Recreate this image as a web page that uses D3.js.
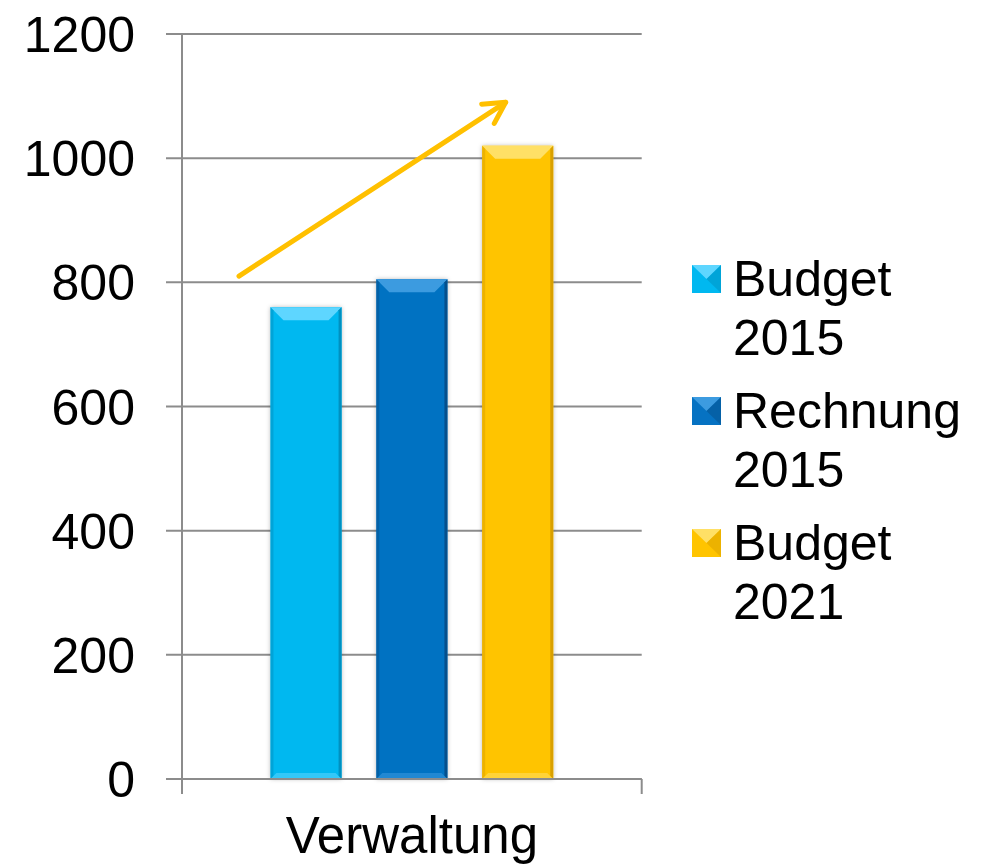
<!DOCTYPE html>
<html>
<head>
<meta charset="utf-8">
<script src="https://cdn.jsdelivr.net/npm/d3@7"></script>
<style>
  html, body { margin: 0; padding: 0; background: #fff; }
  svg { display: block; font-family: "Liberation Sans", Arial, sans-serif; }
</style>
</head>
<body>
<svg id="chart" width="987" height="866"></svg>
<script>
// ---- data ----
const categories = ["Verwaltung"];
const seriesNames = ["Budget 2015", "Rechnung 2015", "Budget 2021"];
const seriesValues = [760, 805, 1020];
const yTicks = [0, 200, 400, 600, 800, 1000, 1200];
const trendArrowValues = [810, 1090];   // start / end value of the trend arrow
const trendArrowPos = [0.124, 0.704];   // relative position across the category band

// ---- styles ----
const colors = ["#00B8F0", "#0672C2", "#FFC400"];
const lightColors = ["#5ED6FF", "#3C9BE0", "#FFE066"];
const darkColors = ["#0090C0", "#044F8C", "#D9A000"];

const svg = d3.select("#chart");
const margin = { left: 182, right: 346, top: 34, bottom: 87 };
const W = 987, H = 866;
const plotL = margin.left, plotR = W - margin.right + 0.7, plotT = margin.top, plotB = H - margin.bottom;

const y = d3.scaleLinear().domain([0, 1200]).range([plotB, plotT]);
const x0 = d3.scaleBand().domain(categories).range([plotL, plotR]).paddingInner(0).paddingOuter(0.3127);
const x1 = d3.scaleBand().domain(seriesNames).range([0, x0.bandwidth()]).paddingInner(0.328).paddingOuter(0);

const defs = svg.append("defs");
const f = defs.append("filter").attr("id", "shadow").attr("x", "-20%").attr("y", "-20%").attr("width", "140%").attr("height", "140%");
f.append("feDropShadow").attr("dx", 0).attr("dy", 0).attr("stdDeviation", 2.2).attr("flood-color", "#000").attr("flood-opacity", 0.28);

// gridlines
const gridColor = "#8c8c8c";
svg.append("g").selectAll("line").data(yTicks).join("line")
  .attr("x1", plotL - 16).attr("x2", plotR)
  .attr("y1", d => y(d)).attr("y2", d => y(d))
  .attr("stroke", gridColor).attr("stroke-width", 2);

// y axis line
svg.append("line").attr("x1", plotL).attr("x2", plotL).attr("y1", plotT).attr("y2", plotB + 15)
  .attr("stroke", gridColor).attr("stroke-width", 2);
// x axis boundary ticks
svg.append("line").attr("x1", plotR).attr("x2", plotR).attr("y1", plotB).attr("y2", plotB + 15)
  .attr("stroke", gridColor).attr("stroke-width", 2);

// y labels
svg.append("g").selectAll("text").data(yTicks).join("text")
  .attr("x", 135).attr("y", d => y(d) + 18)
  .attr("text-anchor", "end").attr("font-size", 50).attr("fill", "#000")
  .text(d => d);

// x label
svg.append("text").attr("x", x0(categories[0]) + x0.bandwidth() / 2).attr("y", 853)
  .attr("text-anchor", "middle").attr("font-size", 51).attr("fill", "#000").text(categories[0]);

// bars with bevel
function bevelBar(g, bx, by, bw, bh, i) {
  g.append("rect").attr("x", bx).attr("y", by).attr("width", bw).attr("height", bh)
    .attr("fill", colors[i]).attr("filter", "url(#shadow)");
  const b = Math.min(13, bh / 2), s = 3;
  // top bevel
  g.append("polygon").attr("points", [[bx, by], [bx + bw, by], [bx + bw - b, by + b], [bx + b, by + b]].join(" "))
    .attr("fill", lightColors[i]);
  // right bevel
  g.append("polygon").attr("points", [[bx + bw, by], [bx + bw, by + bh], [bx + bw - s, by + bh - s], [bx + bw - s, by + s]].join(" "))
    .attr("fill", darkColors[i]);
  // left bevel
  g.append("polygon").attr("points", [[bx, by], [bx, by + bh], [bx + s, by + bh - s], [bx + s, by + s]].join(" "))
    .attr("fill", darkColors[i]).attr("opacity", 0.5);
  // bottom bevel
  g.append("polygon").attr("points", [[bx, by + bh], [bx + bw, by + bh], [bx + bw - 6, by + bh - 6], [bx + 6, by + bh - 6]].join(" "))
    .attr("fill", lightColors[i]).attr("opacity", 0.55);
}
const barsG = svg.append("g");
seriesNames.forEach((name, i) => {
  const bx = x0(categories[0]) + x1(name);
  const by = y(seriesValues[i]);
  bevelBar(barsG.append("g"), bx, by, x1.bandwidth(), y(0) - by, i);
});

// x axis line (over bars)
svg.append("line").attr("x1", plotL - 16).attr("x2", plotR).attr("y1", plotB).attr("y2", plotB)
  .attr("stroke", gridColor).attr("stroke-width", 2.2);

// trend arrow
const ax = trendArrowPos.map(p => plotL + p * (plotR - plotL));
const ay = trendArrowValues.map(v => y(v));
const arrowColor = "#FFC000";
svg.append("line").attr("x1", ax[0]).attr("y1", ay[0]).attr("x2", ax[1]).attr("y2", ay[1])
  .attr("stroke", arrowColor).attr("stroke-width", 5).attr("stroke-linecap", "round");
const ang = Math.atan2(ay[1] - ay[0], ax[1] - ax[0]);
const hl = 24, ha = 0.5;
const head = [
  [ax[1] - hl * Math.cos(ang - ha), ay[1] - hl * Math.sin(ang - ha)],
  [ax[1], ay[1]],
  [ax[1] - hl * Math.cos(ang + ha), ay[1] - hl * Math.sin(ang + ha)]
];
svg.append("path").attr("d", d3.line()(head)).attr("fill", "none")
  .attr("stroke", arrowColor).attr("stroke-width", 5).attr("stroke-linecap", "round").attr("stroke-linejoin", "round");

// legend
const legend = svg.append("g");
seriesNames.forEach((name, i) => {
  const base = 296 + i * 132;
  const g = legend.append("g");
  const mx = 692, my = base - 31, ms = 28;
  g.append("rect").attr("x", mx).attr("y", my).attr("width", ms + 1).attr("height", ms).attr("fill", colors[i]);
  g.append("polygon").attr("points", [[mx, my], [mx + ms + 1, my], [mx + (ms + 1) / 2, my + ms / 2]].join(" "))
    .attr("fill", lightColors[i]);
  g.append("polygon").attr("points", [[mx + ms + 1, my], [mx + ms + 1, my + ms], [mx + (ms + 1) / 2, my + ms / 2]].join(" "))
    .attr("fill", darkColors[i]).attr("opacity", 0.5);
  const parts = name.split(" ");
  parts.forEach((p, j) => {
    g.append("text").attr("x", 733).attr("y", base + j * 59)
      .attr("font-size", 50).attr("fill", "#000").text(p);
  });
});
</script>
</body>
</html>
